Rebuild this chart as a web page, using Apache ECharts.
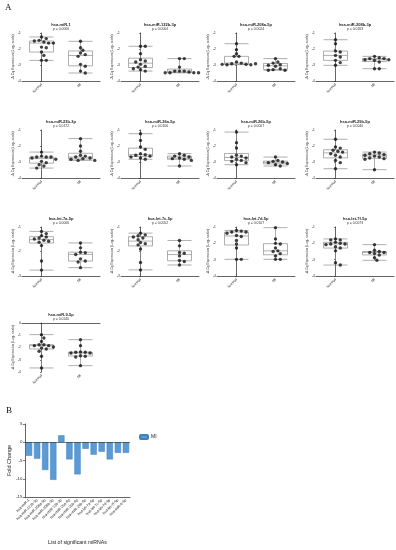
<!DOCTYPE html>
<html><head><meta charset="utf-8">
<script src="https://cdn.jsdelivr.net/npm/echarts@6/dist/echarts.min.js"></script>
<style>html,body{margin:0;background:#fff}#c{width:396px;height:550px}</style>
</head><body><div id="c"></div>
<script>
// ---------- DATA ----------
const groups = ['Normal', 'MI'];
const mirNames = ['hsa-miR-1','hsa-miR-122b-3p','hsa-miR-208a-5p','hsa-miR-208b-3p','hsa-miR-23b-3p','hsa-miR-26a-5p','hsa-miR-26b-5p','hsa-miR-29b-5p','hsa-let-7a-5p','hsa-let-7c-5p','hsa-let-7d-5p','hsa-let-7f-5p','hsa-miR-9-5p'];
const pValues = ['p = 0.0006','p = 0.0004','p = 0.0024','p = 0.0163','p = 0.0172','p = 0.0106','p = 0.0007','p = 0.0040','p = 0.0006','p = 0.0052','p = 0.0107','p = 0.0073','p = 0.0240'];
const normalVals = [
  [-1.25,-1.35,-1.46,-1.50,-1.56,-1.63,-1.63,-1.88,-1.92,-2.19,-2.40,-2.71,-2.71],
  [-1.83,-1.83,-2.29,-2.67,-2.75,-2.81,-2.96,-3.08,-3.13,-3.23,-3.29,-3.38],
  [-1.67,-2.04,-2.29,-2.46,-2.46,-2.81,-2.88,-2.92,-2.96,-2.98,-2.98,-2.96,-2.92],
  [-1.42,-1.67,-2.13,-2.19,-2.40,-2.50,-2.71,-2.85,-3.02],
  [-2.38,-2.63,-2.69,-2.69,-2.69,-2.75,-2.83,-2.96,-3.04,-3.17,-3.25,-3.38],
  [-1.23,-1.65,-2.06,-2.21,-2.48,-2.54,-2.58,-2.63,-2.69,-2.75,-2.83],
  [-1.13,-1.79,-2.13,-2.58,-2.63,-2.69,-2.75,-2.83,-2.90,-2.96,-3.04,-3.17],
  [-1.58,-2.06,-2.13,-2.27,-2.33,-2.38,-2.48,-2.58,-2.69,-2.90,-3.04,-3.42],
  [-1.18,-1.27,-1.35,-1.41,-1.45,-1.49,-1.54,-1.58,-1.62,-1.76,-2.39,-2.76],
  [-1.25,-1.32,-1.36,-1.41,-1.45,-1.52,-1.63,-1.68,-1.73,-1.90,-2.45,-2.75],
  [-1.21,-1.25,-1.31,-1.31,-1.38,-1.52,-1.58,-1.83,-2.04,-2.29,-2.98,-2.98],
  [-1.73,-1.79,-1.79,-1.94,-2.00,-2.04,-2.04,-2.08,-2.21,-2.29,-2.46,-3.19,-3.33],
  [-0.95,-1.22,-1.50,-1.77,-1.77,-1.85,-1.85,-1.96,-2.04,-2.12,-2.31,-2.72,-3.67]
];
const miVals = [
  [-1.52,-1.92,-2.08,-2.25,-2.35,-2.46,-2.96,-3.08,-3.38,-3.50],
  [-2.60,-2.60,-3.13,-3.38,-3.38,-3.38,-3.44,-3.48,-3.48,-3.48,-3.48],
  [-2.60,-2.81,-2.88,-2.98,-3.02,-3.08,-3.23,-3.29,-3.33,-3.33],
  [-2.46,-2.54,-2.60,-2.60,-2.67,-2.67,-2.71,-2.81,-3.23,-3.23],
  [-1.54,-2.00,-2.33,-2.58,-2.63,-2.69,-2.75,-2.79,-2.83,-2.90,-2.90],
  [-2.48,-2.58,-2.63,-2.69,-2.75,-2.79,-2.83,-2.90,-3.25],
  [-2.69,-2.90,-2.96,-3.00,-3.04,-3.10,-3.17,-3.25],
  [-2.38,-2.44,-2.48,-2.54,-2.58,-2.63,-2.69,-2.75,-2.79,-2.83,-3.48],
  [-1.65,-1.85,-2.03,-2.05,-2.12,-2.30,-2.39,-2.43,-2.66],
  [-1.55,-1.77,-2.04,-2.07,-2.18,-2.37,-2.41,-2.55],
  [-1.04,-1.73,-2.00,-2.04,-2.29,-2.46,-2.50,-2.63,-2.77,-2.98,-2.98],
  [-2.08,-2.42,-2.50,-2.56,-2.56,-2.63,-2.71,-2.88,-3.04],
  [-1.36,-1.85,-2.37,-2.39,-2.39,-2.45,-2.45,-2.67,-2.72,-2.78,-3.48]
];
const yMaxs = [-1,-1,-1,-1,-1,-1,-1,-1,-1,-1,-1,-1,0];
const yMins = [-4,-4,-4,-4,-4,-4,-4,-4,-3,-3,-4,-4,-4];
const yStep = 1;
const foldNames = mirNames;
const foldChange = [-3.7,-4.5,-7.6,-10.3,1.9,-4.7,-8.8,-1.8,-3.4,-2.6,-4.7,-2.9,-2.9];
const foldTicks = {min: -15, max: 5, interval: 5};
const yLabelA = '-\u0394 Cq Expression (Log\u2082 scale)';

// ---------- HELPERS ----------
function quant(sorted, p) {
  const pos = (sorted.length - 1) * p, lo = Math.floor(pos), hi = Math.ceil(pos);
  return sorted[lo] + (sorted[hi] - sorted[lo]) * (pos - lo);
}
function boxStats(vals) {
  const s = vals.slice().sort((a, b) => a - b);
  return [s[0], quant(s, 0.25), quant(s, 0.5), quant(s, 0.75), s[s.length - 1]];
}
// deterministic beeswarm: offset points horizontally so they do not overlap
function swarm(vals, pxPerY, pxPerX, d) {
  const placed = [], out = [];
  vals.forEach(v => {
    const y = v * pxPerY;
    let chosen = 0;
    for (let k = 0; k < 40; k++) {
      const cands = k === 0 ? [0] : [k * d * 0.7, -k * d * 0.7];
      let ok = null;
      for (const c of cands) {
        if (placed.every(p => Math.hypot(p[0] - c, p[1] - y) >= d)) { ok = c; break; }
      }
      if (ok !== null) { chosen = ok; break; }
    }
    placed.push([chosen, y]);
    out.push(chosen / pxPerX);
  });
  return out;
}

// ---------- LAYOUT ----------
const colLeft = [22, 121, 217, 316];
const rowTop = [33, 130, 227, 323];
const rowH = [48, 48, 49, 49];
const plotW = 78;
const FONT = 'Arial, "Liberation Sans", sans-serif';

const grids = [], xAxes = [], yAxes = [], series = [], titles = [];
mirNames.forEach((name, i) => {
  const r = Math.floor(i / 4), c = i % 4;
  const left = colLeft[c], top = rowTop[r], h = rowH[r];
  grids.push({left: left, top: top, width: plotW, height: h});
  xAxes.push({
    type: 'category', data: groups, gridIndex: i,
    axisLine: {lineStyle: {color: '#222', width: 0.7}},
    axisTick: {alignWithLabel: true, length: 2, lineStyle: {width: 0.6}},
    axisLabel: {rotate: 45, fontSize: 3.6, margin: 3, color: '#222', fontFamily: FONT}
  });
  xAxes.push({type: 'value', gridIndex: i, min: -0.5, max: 1.5, show: false});
  yAxes.push({
    type: 'value', gridIndex: i, min: yMins[i], max: yMaxs[i], interval: yStep,
    name: yLabelA, nameLocation: 'middle', nameGap: 4,
    nameTextStyle: {fontSize: 3.4, color: '#333', fontFamily: FONT},
    axisLine: {show: true, lineStyle: {color: '#222', width: 0.7}},
    axisTick: {show: true, length: 1.5, lineStyle: {width: 0.6}},
    axisLabel: {fontSize: 3.2, margin: 1.2, color: '#222', fontFamily: FONT},
    splitLine: {show: false}
  });
  titles.push({
    text: name, subtext: pValues[i], left: left + plotW / 2, top: top - 10.5,
    textAlign: 'center', itemGap: 1, padding: 0,
    textStyle: {fontSize: 4, fontWeight: 'bold', color: '#222', fontFamily: FONT},
    subtextStyle: {fontSize: 3.4, color: '#333', fontFamily: FONT}
  });
  const allVals = [normalVals[i], miVals[i]];
  series.push({
    type: 'boxplot', xAxisIndex: 2 * i, yAxisIndex: i, silent: true,
    boxWidth: [24, 24],
    itemStyle: {color: '#fff', borderColor: '#8c8c8c', borderWidth: 0.7},
    data: allVals.map(boxStats)
  });
  const pxPerY = h / (yMaxs[i] - yMins[i]);
  const pts = [];
  allVals.forEach((vals, g) => {
    const offs = swarm(vals, pxPerY, plotW / 2, 3.4);
    vals.forEach((v, k) => pts.push([g + offs[k], v]));
  });
  series.push({
    type: 'scatter', xAxisIndex: 2 * i + 1, yAxisIndex: i, silent: true,
    symbolSize: 3.4, itemStyle: {color: '#111'}, z: 5, data: pts
  });
});

// Panel B
const gB = grids.length;
grids.push({left: 25, top: 424, width: 105, height: 73});
xAxes.push({
  type: 'category', data: foldNames, gridIndex: gB,
  axisLine: {onZero: false, lineStyle: {color: '#222', width: 0.7}},
  axisTick: {alignWithLabel: true, length: 2, lineStyle: {width: 0.6}},
  axisLabel: {rotate: 45, fontSize: 3.7, margin: 2.5, color: '#222', interval: 0, fontFamily: FONT},
  name: 'List of significant miRNAs', nameLocation: 'middle', nameGap: 43,
  nameTextStyle: {fontSize: 5.2, color: '#222', fontFamily: FONT}
});
yAxes.push({
  type: 'value', gridIndex: gB, min: foldTicks.min, max: foldTicks.max, interval: foldTicks.interval,
  name: 'Fold Change', nameLocation: 'middle', nameGap: 12,
  nameTextStyle: {fontSize: 5.4, color: '#222', fontFamily: FONT},
  axisLine: {show: true, lineStyle: {color: '#222', width: 0.7}},
  axisTick: {show: true, length: 2, lineStyle: {width: 0.6}},
  axisLabel: {fontSize: 4.4, margin: 2.5, color: '#222', fontFamily: FONT},
  splitLine: {show: false}
});
series.push({
  type: 'bar', name: 'MI', xAxisIndex: xAxes.length - 1, yAxisIndex: gB,
  data: foldChange, barCategoryGap: '22%',
  itemStyle: {color: '#5B9BD5', borderColor: '#3F7FBF', borderWidth: 0.5},
  markLine: {silent: true, symbol: 'none', label: {show: false},
    lineStyle: {color: '#222', width: 0.6, type: 'solid'}, data: [{yAxis: 0}]}
});

titles.push({text: 'A', left: 5, top: 3, padding: 0, textStyle: {fontSize: 9, fontWeight: 'normal', color: '#111', fontFamily: '"Liberation Serif", serif'}});
titles.push({text: 'B', left: 6, top: 406, padding: 0, textStyle: {fontSize: 9, fontWeight: 'normal', color: '#111', fontFamily: '"Liberation Serif", serif'}});

const chart = echarts.init(document.getElementById('c'), null, {renderer: 'canvas'});
chart.setOption({
  animation: false,
  backgroundColor: '#fff',
  title: titles,
  legend: {data: ['MI'], left: 139, top: 434, itemWidth: 8, itemHeight: 4, itemGap: 2, padding: 0,
    textStyle: {fontSize: 5, color: '#222', fontFamily: FONT, padding: [0,0,0,-2]}},
  grid: grids, xAxis: xAxes, yAxis: yAxes, series: series
});
</script></body></html>
